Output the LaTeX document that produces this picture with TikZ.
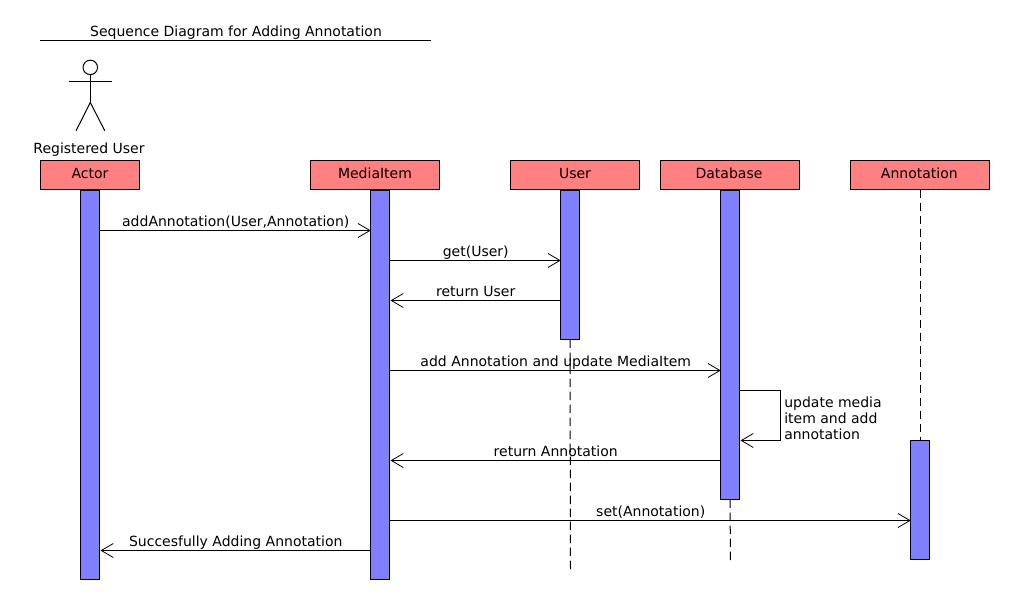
\documentclass[tikz,border=0pt]{standalone}
\usepackage{fontspec}
\setmainfont{DejaVu Sans}
\usetikzlibrary{arrows.meta}
\definecolor{boxred}{HTML}{FF8080}
\definecolor{barblue}{HTML}{8080FF}
\tikzset{
  header/.style={draw=black,fill=boxred,line width=.75pt,anchor=north west,inner sep=0pt,outer sep=0pt,
    minimum height=29*.75pt,minimum width=#1*.75pt,text height=9*.75pt,text depth=3*.75pt,font=\fontsize{10.5pt}{12pt}\selectfont},
  bar/.style={draw=black,fill=barblue,line width=.75pt,anchor=north west,inner sep=0pt,outer sep=0pt,
    minimum width=19*.75pt,minimum height=#1*.75pt},
  msg/.style={line width=.75pt,shorten >=-.25*.75pt,-{Straight Barb[length=12*.75pt,width=14*.75pt,line width=.6pt]}},
  back/.style={msg,shorten >=1*.75pt},
  life/.style={line width=.75pt,dash pattern=on 8.5*.75pt off 4.5*.75pt},
  plain/.style={line width=.75pt},
  lbl/.style={midway,anchor=base,xshift=.75*.75pt,yshift=4*.75pt,inner sep=0pt,font=\fontsize{10.5pt}{12pt}\selectfont},
  txt/.style={inner sep=0pt,anchor=base,font=\fontsize{10.5pt}{12pt}\selectfont}
}
\begin{document}
\begin{tikzpicture}[x=.75pt,y=-.75pt]
\useasboundingbox (0,0) rectangle (1010,610);
\fill[white] (0,0) rectangle (1010,610);
% title
\coordinate (tl) at (40,40.5);
\coordinate (tr) at (431,40.5);
\node[txt] (title) at (236,36.6) {Sequence Diagram for Adding Annotation};
\draw[plain] (tl) -- (tr);
% stick figure
\node[circle,draw=black,line width=.75pt,inner sep=0pt,outer sep=0pt,minimum size=14.5*.75pt] (head) at (90.3,67.4) {};
\coordinate (hip) at (90.3,102.5);
\coordinate (armL) at (69,81.4);
\coordinate (armR) at (111.7,81.4);
\coordinate (footL) at (76,130.8);
\coordinate (footR) at (104.8,130.8);
\draw[plain] (head.south) -- (hip);
\draw[plain] (armL) -- (armR);
\draw[plain] (footL) -- (hip) -- (footR);
\node[txt] (reg) at (89,153.2) {Registered User};
% headers
\node[header=99]  (hActor) at (40.5,160.5)  {Actor};
\node[header=129] (hMedia) at (310.5,160.5) {MediaItem};
\node[header=129] (hUser)  at (510.5,160.5) {User};
\node[header=139] (hData)  at (660.5,160.5) {\hspace*{-1.5pt}Database};
\node[header=139] (hAnno)  at (850.5,160.5) {\hspace*{-1pt}Annotation};
% lifeline ends
\coordinate (endUser) at (570.5,570);
\coordinate (endData) at (730.5,561);
% activation bars
\node[bar=389] (bActor) at (80.5,190.5)  {};
\node[bar=389] (bMedia) at (370.5,190.5) {};
\node[bar=149] (bUser)  at (560.5,190.5) {};
\node[bar=309] (bData)  at (720.5,190.5) {};
\node[bar=119] (bAnno)  at (910.5,440.5) {};
% lifelines
\draw[life] (bUser.south) -- (endUser);
\draw[life] (bData.south) -- (endData);
\draw[life] (hAnno.south) -- (bAnno.north);
% messages
\draw[msg]  (bActor.east |- 0,230.5) -- (bMedia.west |- 0,230.5) node[lbl] (m1) {addAnnotation(User,Annotation)};
\draw[msg]  (bMedia.east |- 0,260.5) -- (bUser.west |- 0,260.5) node[lbl] (m2) {get(User)};
\draw[back] (bUser.west |- 0,300.5) -- (bMedia.east |- 0,300.5) node[lbl] (m3) {return User};
\draw[msg]  (bMedia.east |- 0,370.5) -- (bData.west |- 0,370.5) node[lbl] (m4) {add Annotation and update MediaItem};
\draw[back] (bData.east |- 0,390.5) -- (780.5,390.5) -- (780.5,440.5) -- (bData.east |- 0,440.5);
\node[txt,anchor=base west] (s1) at (784,407) {update media};
\node[txt,anchor=base west] (s2) at (784,423) {item and add};
\node[txt,anchor=base west] (s3) at (784,439) {annotation};
\draw[back] (bData.west |- 0,460.5) -- (bMedia.east |- 0,460.5) node[lbl] (m5) {return Annotation};
\draw[msg]  (bMedia.east |- 0,520.5) -- (bAnno.west |- 0,520.5) node[lbl] (m6) {set(Annotation)};
\draw[back] (bMedia.west |- 0,550.5) -- (bActor.east |- 0,550.5) node[lbl] (m7) {Succesfully Adding Annotation};
\end{tikzpicture}
\end{document}
